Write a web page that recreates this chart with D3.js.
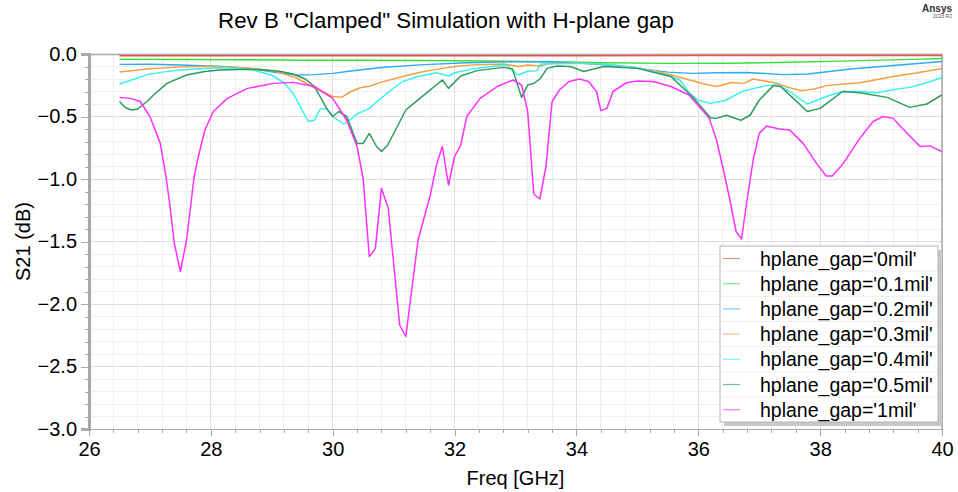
<!DOCTYPE html>
<html>
<head>
<meta charset="utf-8">
<script src="https://cdn.jsdelivr.net/npm/d3@7.9.0/dist/d3.min.js"></script>
<style>
  body { margin: 0; background: #fff; }
  svg { display: block; font-family: "Liberation Sans", Arial, sans-serif; }
  .grid line { shape-rendering: crispEdges; }
  .axis path, .axis line { stroke: #a8a8a8; shape-rendering: crispEdges; }
  .axis text { fill: #000; font-size: 20px; }
</style>
</head>
<body>
<div id="chart"></div>
<script>
// Series labels and colours
const seriesNames = ["hplane_gap='0mil'", "hplane_gap='0.1mil'", "hplane_gap='0.2mil'",
  "hplane_gap='0.3mil'", "hplane_gap='0.4mil'", "hplane_gap='0.5mil'", "hplane_gap='1mil'"];
const seriesColors = ["#f05050", "#38e038", "#30aaf0", "#f5a040", "#38f0f0", "#2e9b5e", "#ff30ff"];

// [freq GHz, S21 dB]
const gap0 = [[26.5,-0.014],[28,-0.014],[30,-0.014],[32,-0.013],[34,-0.013],[36,-0.012],[38,-0.012],[40,-0.012]];

const gap01 = [[26.5,-0.042],[27.5,-0.043],[28.5,-0.046],[29.5,-0.05],[30.5,-0.05],[31.5,-0.052],[32.5,-0.056],
  [33.5,-0.062],[34.5,-0.07],[35.5,-0.075],[36.5,-0.074],[37.5,-0.066],[38.5,-0.055],[39.5,-0.043],[40,-0.035]];

const gap02 = [[26.5,-0.083],[27,-0.082],[27.5,-0.088],[28.2,-0.1],[28.7,-0.12],[29.1,-0.15],[29.4,-0.168],
  [29.7,-0.165],[30,-0.155],[30.4,-0.13],[30.8,-0.108],[31.5,-0.085],[32.2,-0.07],[33,-0.062],[33.5,-0.062],
  [34,-0.07],[34.5,-0.088],[35,-0.115],[35.5,-0.145],[35.9,-0.155],[36.3,-0.15],[36.8,-0.148],[37.4,-0.165],
  [37.8,-0.16],[38.5,-0.12],[39,-0.1],[39.5,-0.08],[40,-0.06]];

const gap03 = [[26.5,-0.144],[27,-0.118],[27.5,-0.103],[28,-0.098],[28.4,-0.105],[28.8,-0.12],[29.1,-0.145],
  [29.4,-0.19],[29.7,-0.27],[30,-0.34],[30.15,-0.345],[30.3,-0.3],[30.45,-0.27],[30.6,-0.258],[30.8,-0.225],
  [31.15,-0.18],[31.4,-0.15],[31.7,-0.123],[32,-0.1],[32.3,-0.087],[32.8,-0.08],[33.05,-0.1],[33.2,-0.088],
  [33.4,-0.096],[33.55,-0.076],[34,-0.072],[34.45,-0.08],[35,-0.11],[35.3,-0.135],[35.55,-0.168],[35.8,-0.2],
  [36.1,-0.24],[36.3,-0.26],[36.55,-0.228],[36.75,-0.235],[36.9,-0.2],[37.25,-0.23],[37.5,-0.27],[37.7,-0.293],
  [37.9,-0.28],[38.1,-0.253],[38.4,-0.24],[38.65,-0.23],[39.2,-0.18],[39.6,-0.15],[40,-0.115]];

const gap04 = [[26.5,-0.24],[26.75,-0.2],[26.95,-0.165],[27.2,-0.145],[27.5,-0.128],[27.8,-0.118],[28.15,-0.11],
  [28.5,-0.115],[28.7,-0.128],[29,-0.17],[29.2,-0.23],[29.35,-0.315],[29.5,-0.45],[29.6,-0.54],[29.7,-0.53],
  [29.8,-0.435],[29.9,-0.44],[30,-0.5],[30.18,-0.56],[30.3,-0.52],[30.4,-0.48],[30.6,-0.435],[30.78,-0.36],
  [30.95,-0.29],[31.15,-0.22],[31.4,-0.18],[31.7,-0.15],[31.9,-0.176],[32,-0.15],[32.26,-0.123],[32.6,-0.1],
  [32.85,-0.088],[33.04,-0.168],[33.2,-0.138],[33.35,-0.135],[33.42,-0.08],[34,-0.075],[34.45,-0.08],[35,-0.11],
  [35.26,-0.14],[35.55,-0.18],[35.7,-0.21],[35.86,-0.315],[36,-0.37],[36.2,-0.395],[36.45,-0.37],[36.74,-0.295],
  [37.1,-0.255],[37.3,-0.245],[37.5,-0.3],[37.79,-0.4],[38.1,-0.34],[38.37,-0.3],[38.65,-0.3],[38.92,-0.31],
  [39.2,-0.285],[39.47,-0.267],[39.75,-0.23],[40,-0.187]];

const gap05 = [[26.5,-0.38],[26.6,-0.43],[26.7,-0.448],[26.8,-0.44],[26.95,-0.38],[27.1,-0.31],[27.28,-0.235],
  [27.6,-0.168],[27.9,-0.14],[28.15,-0.128],[28.6,-0.122],[28.92,-0.128],[29.15,-0.14],[29.35,-0.16],[29.55,-0.2],
  [29.7,-0.26],[29.9,-0.435],[30,-0.5],[30.1,-0.46],[30.23,-0.5],[30.4,-0.715],[30.5,-0.715],[30.6,-0.635],
  [30.72,-0.74],[30.8,-0.78],[30.9,-0.73],[31.2,-0.448],[31.43,-0.355],[31.8,-0.208],[31.9,-0.275],[32.1,-0.176],
  [32.37,-0.133],[32.8,-0.107],[32.95,-0.12],[33.1,-0.347],[33.2,-0.248],[33.3,-0.235],[33.4,-0.2],[33.52,-0.115],
  [33.68,-0.096],[33.9,-0.1],[34.12,-0.14],[34.45,-0.1],[35,-0.115],[35.55,-0.18],[35.9,-0.34],[36.2,-0.51],
  [36.3,-0.515],[36.46,-0.49],[36.7,-0.53],[36.85,-0.49],[37,-0.37],[37.23,-0.253],[37.35,-0.26],[37.56,-0.355],
  [37.79,-0.46],[38,-0.435],[38.37,-0.3],[38.65,-0.31],[39.1,-0.347],[39.47,-0.427],[39.75,-0.4],[40,-0.328]];

const gap1 = [[26.5,-0.347],[26.68,-0.355],[26.84,-0.38],[27,-0.5],[27.17,-0.715],[27.27,-1.0],[27.33,-1.22],
  [27.4,-1.515],[27.5,-1.74],[27.6,-1.49],[27.67,-1.21],[27.72,-1.0],[27.78,-0.85],[27.9,-0.61],[28.04,-0.46],
  [28.27,-0.355],[28.6,-0.275],[29.03,-0.235],[29.35,-0.227],[29.7,-0.26],[30,-0.355],[30.23,-0.53],[30.4,-0.74],
  [30.5,-1.0],[30.6,-1.62],[30.7,-1.555],[30.8,-1.075],[30.91,-1.23],[31.1,-2.17],[31.2,-2.26],[31.4,-1.49],
  [31.6,-1.13],[31.71,-0.875],[31.8,-0.74],[31.9,-1.048],[32,-0.82],[32.1,-0.73],[32.2,-0.5],[32.42,-0.355],
  [32.7,-0.26],[32.96,-0.208],[33.1,-0.248],[33.2,-0.46],[33.3,-1.12],[33.4,-1.16],[33.5,-0.9],[33.6,-0.38],
  [33.72,-0.288],[33.88,-0.22],[34.05,-0.2],[34.2,-0.22],[34.33,-0.3],[34.4,-0.453],[34.5,-0.435],[34.6,-0.3],
  [34.82,-0.23],[35,-0.216],[35.26,-0.22],[35.55,-0.26],[35.85,-0.328],[36.18,-0.515],[36.3,-0.69],[36.4,-0.9],
  [36.52,-1.17],[36.62,-1.42],[36.71,-1.48],[36.8,-1.17],[36.9,-0.85],[37,-0.635],[37.12,-0.576],[37.33,-0.6],
  [37.5,-0.608],[37.72,-0.715],[37.94,-0.875],[38.1,-0.976],[38.2,-0.976],[38.38,-0.875],[38.65,-0.675],
  [38.87,-0.54],[39.03,-0.5],[39.2,-0.515],[39.3,-0.57],[39.64,-0.74],[39.8,-0.735],[40,-0.78]];

const allSeries = [gap0, gap01, gap02, gap03, gap04, gap05, gap1];

// Axis ticks
const xTicks = [26, 28, 30, 32, 34, 36, 38, 40];
const yTicks = [0, -0.5, -1.0, -1.5, -2.0, -2.5, -3.0];

const W = 958, H = 492;
const margin = { top: 54, right: 16, bottom: 63, left: 89 };
const width = W - margin.left - margin.right;
const height = H - margin.top - margin.bottom;

const svg = d3.select('#chart').append('svg')
  .attr('width', W).attr('height', H);

const x = d3.scaleLinear().domain([26, 40]).range([0, width]);
const y = d3.scaleLinear().domain([-3, 0]).range([height, 0]);

const g = svg.append('g').attr('transform', `translate(${margin.left},${margin.top})`);

const xMinor = d3.range(26, 40.001, 0.4).map(v => +v.toFixed(2));
const yMinor = d3.range(-3, 0.001, 0.1).map(v => +v.toFixed(2));

// Gridlines: minor then major
g.append('g').attr('class', 'grid')
  .selectAll('line').data(xMinor).join('line')
  .attr('x1', d => x(d)).attr('x2', d => x(d)).attr('y1', 0).attr('y2', height)
  .attr('stroke', '#efefef');
g.append('g').attr('class', 'grid')
  .selectAll('line').data(yMinor).join('line')
  .attr('y1', d => y(d)).attr('y2', d => y(d)).attr('x1', 0).attr('x2', width)
  .attr('stroke', '#efefef');
g.append('g').attr('class', 'grid')
  .selectAll('line').data(xTicks).join('line')
  .attr('x1', d => x(d)).attr('x2', d => x(d)).attr('y1', 0).attr('y2', height)
  .attr('stroke', '#dedede');
g.append('g').attr('class', 'grid')
  .selectAll('line').data(yTicks).join('line')
  .attr('y1', d => y(d)).attr('y2', d => y(d)).attr('x1', 0).attr('x2', width)
  .attr('stroke', '#dedede');

// Frame (top and right)
g.append('path')
  .attr('d', `M0,0.5H${width}V${height}`)
  .attr('fill', 'none').attr('stroke', '#a8a8a8').attr('stroke-width', 1.5);

// Minor ticks
g.append('g').attr('class', 'axis')
  .attr('transform', `translate(0,${height})`)
  .call(d3.axisBottom(x).tickValues(xMinor).tickSize(4).tickFormat(''))
  .call(s => s.select('.domain').remove());
g.append('g').attr('class', 'axis')
  .call(d3.axisLeft(y).tickValues(yMinor).tickSize(4).tickFormat(''))
  .call(s => s.select('.domain').remove());

// Major axes
g.append('g').attr('class', 'axis')
  .attr('transform', `translate(0,${height})`)
  .call(d3.axisBottom(x).tickValues(xTicks).tickSize(7).tickPadding(6).tickFormat(d3.format('d')))
  .call(s => s.select('.domain').attr('stroke-width', 1.5));
g.append('g').attr('class', 'axis')
  .call(d3.axisLeft(y).tickValues(yTicks).tickSize(8).tickPadding(4).tickFormat(d3.format('.1f')))
  .call(s => s.select('.domain').attr('stroke-width', 2.5));

// Curves
g.append('clipPath').attr('id', 'clip')
  .append('rect').attr('width', width).attr('height', height);

const line = d3.line().x(d => x(d[0])).y(d => y(d[1]));

g.append('g').attr('clip-path', 'url(#clip)')
  .selectAll('path').data(allSeries).join('path')
  .attr('d', line)
  .attr('fill', 'none')
  .attr('stroke', (d, i) => seriesColors[i])
  .attr('stroke-width', 1.5)
  .attr('stroke-linejoin', 'round');

// Legend
const lx = 720, ly = 246, lw = 218, lh = 176, rowH = 25.2;
svg.append('rect').attr('x', lx + 4).attr('y', ly + 4).attr('width', lw).attr('height', lh).attr('fill', '#c8c8c8');
svg.append('rect').attr('x', lx).attr('y', ly).attr('width', lw).attr('height', lh)
  .attr('fill', '#fff').attr('stroke', '#b4b4b4');

const leg = svg.append('g').selectAll('g').data(seriesNames).join('g')
  .attr('transform', (d, i) => `translate(${lx},${ly + 12.5 + i * rowH})`);
leg.filter((d, i) => i > 0).append('line')
  .attr('x1', 1).attr('x2', lw - 1).attr('y1', -rowH / 2).attr('y2', -rowH / 2)
  .attr('stroke', '#ececec');
leg.append('line')
  .attr('x1', 3).attr('x2', 20).attr('y1', 0).attr('y2', 0)
  .attr('stroke', (d, i) => seriesColors[i]).attr('stroke-opacity', 0.65).attr('stroke-width', 1.2);
leg.append('text')
  .attr('x', 40).attr('y', 7)
  .attr('font-size', '19.5px')
  .text(d => d);

// Titles
svg.append('text').attr('x', 446).attr('y', 28).attr('text-anchor', 'middle')
  .attr('font-size', '22.3px').text('Rev B "Clamped" Simulation with H-plane gap');
svg.append('text').attr('x', margin.left + width / 2).attr('y', 485).attr('text-anchor', 'middle')
  .attr('font-size', '20px').text('Freq [GHz]');
svg.append('text')
  .attr('transform', `translate(30,${margin.top + height / 2}) rotate(-90)`)
  .attr('text-anchor', 'middle').attr('font-size', '20px').text('S21 (dB)');

// Ansys badge
svg.append('text').attr('x', 952).attr('y', 12).attr('text-anchor', 'end')
  .attr('font-size', '10px').attr('font-weight', 'bold').attr('fill', '#333').text('Ansys');
svg.append('text').attr('x', 952).attr('y', 18).attr('text-anchor', 'end')
  .attr('font-size', '5px').attr('fill', '#555').text('2023 R2');
</script>
</body>
</html>
